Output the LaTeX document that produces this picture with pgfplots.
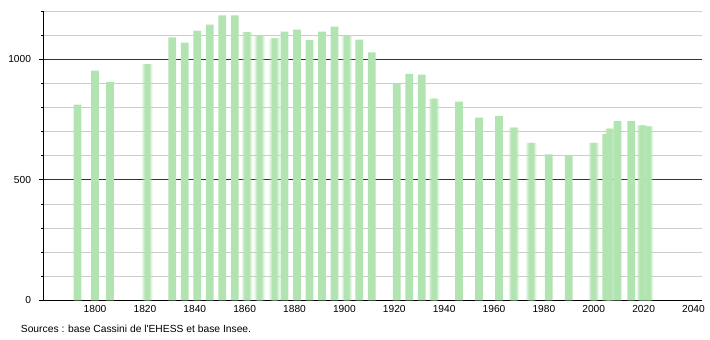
\documentclass[border=0pt]{standalone}
\usepackage{fontspec}
\setmainfont{Liberation Sans}[Ligatures=TeXOff]
\usepackage{pgfplots}
\pgfplotsset{compat=1.18}
\definecolor{barg}{RGB}{178,228,178}
\definecolor{gridg}{RGB}{204,204,204}
\begin{document}
\fontsize{10bp}{12bp}\selectfont
\begin{tikzpicture}
\path[use as bounding box] (0,0) rectangle (710bp,340bp);
\begin{axis}[
  at={(43.7bp,39.7bp)}, anchor=south west,
  scale only axis, width=658bp, height=289.2bp,
  xmin=1779.4, xmax=2043.3, ymin=0, ymax=1200,
  axis lines=left,
  axis line style={black, line width=0.8pt, -},
  xtick={1800,1820,...,2040},
  ytick={0,500,1000},
  minor ytick={100,200,300,400,600,700,800,900,1100,1200},
  ymajorgrids, yminorgrids,
  major grid style={black!80, line width=0.8pt},
  minor grid style={gridg, line width=0.8pt},
  tick align=outside,
  major tick length=4.5bp, minor tick length=2.2bp,
  tick style={black, line width=0.6pt},
  xtick style={draw=none},
  /pgf/number format/assume math mode=true,
  /pgf/number format/1000 sep={},
  tick label style={font=\fontsize{10.2bp}{12bp}\selectfont, inner sep=0pt},
  yticklabel style={anchor=east, xshift=-8bp},
  xticklabel style={anchor=north, yshift=0bp},
  clip=false,
]
% solid bars
\addplot[ybar, bar width=3.1, bar shift=0pt, fill=barg, draw=none] coordinates {
(1793,812) (1800,953) (1806,905) (1831,1091) (1836,1069) (1841,1119) (1846,1144)
(1851,1182) (1856,1182) (1876,1115) (1881,1123) (1886,1080) (1891,1115) (1896,1136)
(1906,1082) (1911,1029) (1921,897) (1926,940) (1931,936) (1946,824) (1954,758)
(1962,765) (1982,605) (1990,598) (2005,690) (2009.5,743) (2015,743)
};
% blurred bars: halo layers
\addplot[ybar, bar width=4.2, bar shift=0pt, fill=barg, fill opacity=0.3, draw=none] coordinates {
(1821,980) (1861,1113) (1866,1098) (1872,1087) (1901,1098) (1936,837) (1968,717)
(1975,653) (2000,653) (2006.5,712) (2019.4,726) (2021.8,722)
};
\addplot[ybar, bar width=3.2, bar shift=0pt, fill=barg, fill opacity=0.5, draw=none] coordinates {
(1821,980) (1861,1113) (1866,1098) (1872,1087) (1901,1098) (1936,837) (1968,717)
(1975,653) (2000,653) (2006.5,712) (2019.4,726) (2021.8,722)
};
\addplot[ybar, bar width=2.2, bar shift=0pt, fill=barg, draw=none] coordinates {
(1821,980) (1861,1113) (1866,1098) (1872,1087) (1901,1098) (1936,837) (1968,717)
(1975,653) (2000,653) (2006.5,712) (2019.4,726) (2021.8,722)
};
\end{axis}
\node[anchor=base west, inner sep=0pt, font=\fontsize{10.3bp}{12bp}\selectfont] at (20.7bp,7.8bp) {Sources : base Cassini de l'EHESS et base Insee.};
\end{tikzpicture}
\end{document}
